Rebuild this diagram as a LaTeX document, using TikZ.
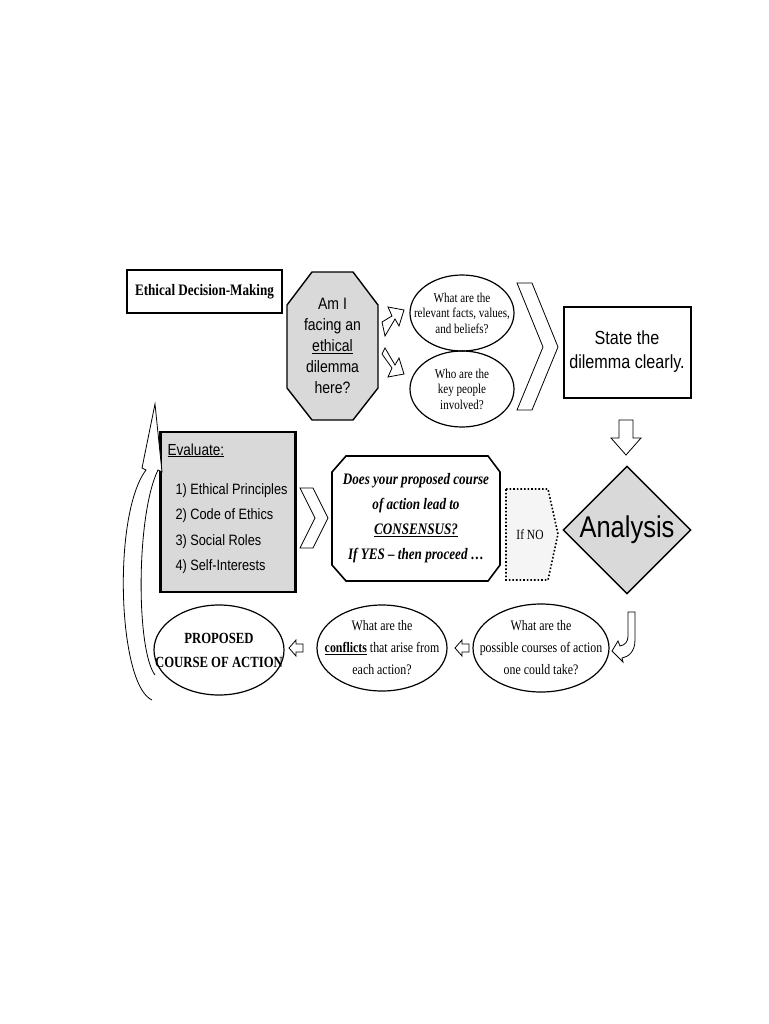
\documentclass[tikz,border=0pt]{standalone}
\usepackage{fontspec}
\setmainfont[FakeStretch=0.82]{Liberation Serif}
\setsansfont[FakeStretch=0.85]{Liberation Sans}
\usetikzlibrary{shapes.geometric}
\tikzset{
  serifnote/.style={font=\fontsize{13.5}{15.5}\selectfont, align=center},
  sansnote/.style={font=\sffamily\fontsize{14}{17}\selectfont, align=center},
  bubble/.style={draw, ellipse, line width=1.2pt, inner sep=0pt},
  blockarrow/.style={draw, fill=white, line width=0.8pt, line join=miter},
}
\begin{document}
\begin{tikzpicture}[x=1pt,y=-1pt]
  \useasboundingbox (0,0) rectangle (768,1024);
  % top row
  \node[draw, line width=1.2pt, minimum width=155pt, minimum height=43pt,
        font=\bfseries\fontsize{16}{17}\selectfont] (title) at (204.5,291.5) {Ethical Decision-Making};
  \filldraw[fill=gray!30, line width=1.4pt] (312,272) -- (353,272) -- (378,305) -- (378,388)
     -- (353,420) -- (312,420) -- (287,388) -- (287,305) -- cycle;
  \node[sansnote, font=\sffamily\fontsize{16.5}{21}\selectfont] (dilemma) at (332.5,346)
     {Am I\\facing an\\\underline{ethical}\\dilemma\\here?};
  \draw[blockarrow] (382,322) -- (392,316) -- (388,307) -- (404,310) -- (399,326) -- (395,319) -- (385,336) -- cycle;
  \draw[blockarrow] (382,354) -- (385,348) -- (395,365) -- (399,358) -- (404,374) -- (388,377) -- (392,368) -- cycle;
  \node[bubble, minimum width=104pt, minimum height=76pt] (facts) at (462,313) {};
  \node[serifnote] (factstext) at (facts) {What are the\\relevant facts, values,\\and beliefs?};
  \node[bubble, minimum width=104pt, minimum height=76pt] (people) at (462,389) {};
  \node[serifnote] (peopletext) at (people) {Who are the\\key people\\involved?};
  \draw[blockarrow] (517,283) -- (532,283) -- (558,347) -- (532,410) -- (517,410) -- (543,347) -- cycle;
  \node[draw, line width=2pt, minimum width=127pt, minimum height=91pt,
        sansnote, font=\sffamily\fontsize{19}{24}\selectfont] (state) at (627,352)
     {State the\\dilemma clearly.};
  \draw[blockarrow] (619,420) -- (633,420) -- (633,438) -- (641,438) -- (626,455) -- (611,438) -- (619,438) -- cycle;
  % middle row
  \node[diamond, draw, fill=gray!30, line width=1.4pt, minimum width=128pt, minimum height=128pt,
        inner sep=0pt] (analysis) at (627,530) {};
  \node[font=\sffamily\fontsize{30}{30}\selectfont] (analysistext) at (analysis) {Analysis};
  \filldraw[fill=gray!8, dotted, line width=1.6pt] (506,489) -- (548,489) -- (558,534) -- (548,580) -- (506,580) -- cycle;
  \node[serifnote, font=\fontsize{14}{15}\selectfont] (ifno) at (530,535) {If NO};
  \draw[line width=1.6pt] (346,456) -- (488,456) -- (500,472) -- (500,565) -- (488,581)
     -- (346,581) -- (332,565) -- (332,472) -- cycle;
  \node[font=\bfseries\itshape\fontsize{16}{25}\selectfont, align=center] (consensus) at (416,518)
     {Does your proposed course\\of action lead to\\\underline{CONSENSUS?}\\If YES -- then proceed \dots};
  \draw[blockarrow] (300,488) -- (313,488) -- (328,518) -- (313,548) -- (300,548) -- (315,518) -- cycle;
  \node[draw, fill=gray!30, line width=2.4pt, minimum width=135pt, minimum height=160pt] (evaluate) at (228,512) {};
  \node[sansnote, anchor=north west, align=left, font=\sffamily\fontsize{16}{25}\selectfont] (evtitle) at (164,440)
     {\underline{Evaluate:}};
  \node[sansnote, anchor=north west, align=left, font=\sffamily\fontsize{15}{25.5}\selectfont] (evlist) at (172,480)
     {1) Ethical Principles\\2) Code of Ethics\\3) Social Roles\\4) Self-Interests};
  % bottom row
  \node[bubble, minimum width=136pt, minimum height=88pt] (possible) at (541,648) {};
  \node[serifnote, font=\fontsize{14.5}{22}\selectfont] (possibletext) at (possible)
     {What are the\\possible courses of action\\one could take?};
  \node[bubble, minimum width=130pt, minimum height=86pt] (conflicts) at (382,648) {};
  \node[serifnote, font=\fontsize{14.5}{22}\selectfont] (conflictstext) at (conflicts)
     {What are the\\\underline{\textbf{conflicts}} that arise from\\each action?};
  \node[bubble, minimum width=130pt, minimum height=90pt] (proposed) at (219,650) {};
  \node[font=\bfseries\fontsize{15.5}{24}\selectfont, align=center] (proposedtext) at (proposed)
     {PROPOSED\\COURSE OF ACTION};
  \draw[blockarrow] (455,648) -- (462,640) -- (462,644) -- (469,644) -- (469,652) -- (462,652) -- (462,656) -- cycle;
  \draw[blockarrow] (289,648) -- (296,640) -- (296,644) -- (303,644) -- (303,652) -- (296,652) -- (296,656) -- cycle;
  % hook arrow from Analysis
  \draw[blockarrow] (628,612) -- (635,612) -- (635,640) .. controls (635,652) and (628,657) .. (622,658)
     -- (623,662) -- (612,651) -- (618,641) -- (620,646) .. controls (625,645) and (628,642) .. (628,636) -- cycle;
  % big return arrow
  \draw[blockarrow] (152,700) .. controls (118,685) and (112,515) .. (146,470) -- (142,468) -- (155,404)
     -- (162,472) -- (158,470) .. controls (136,515) and (136,650) .. (155,675);
\end{tikzpicture}
\end{document}
